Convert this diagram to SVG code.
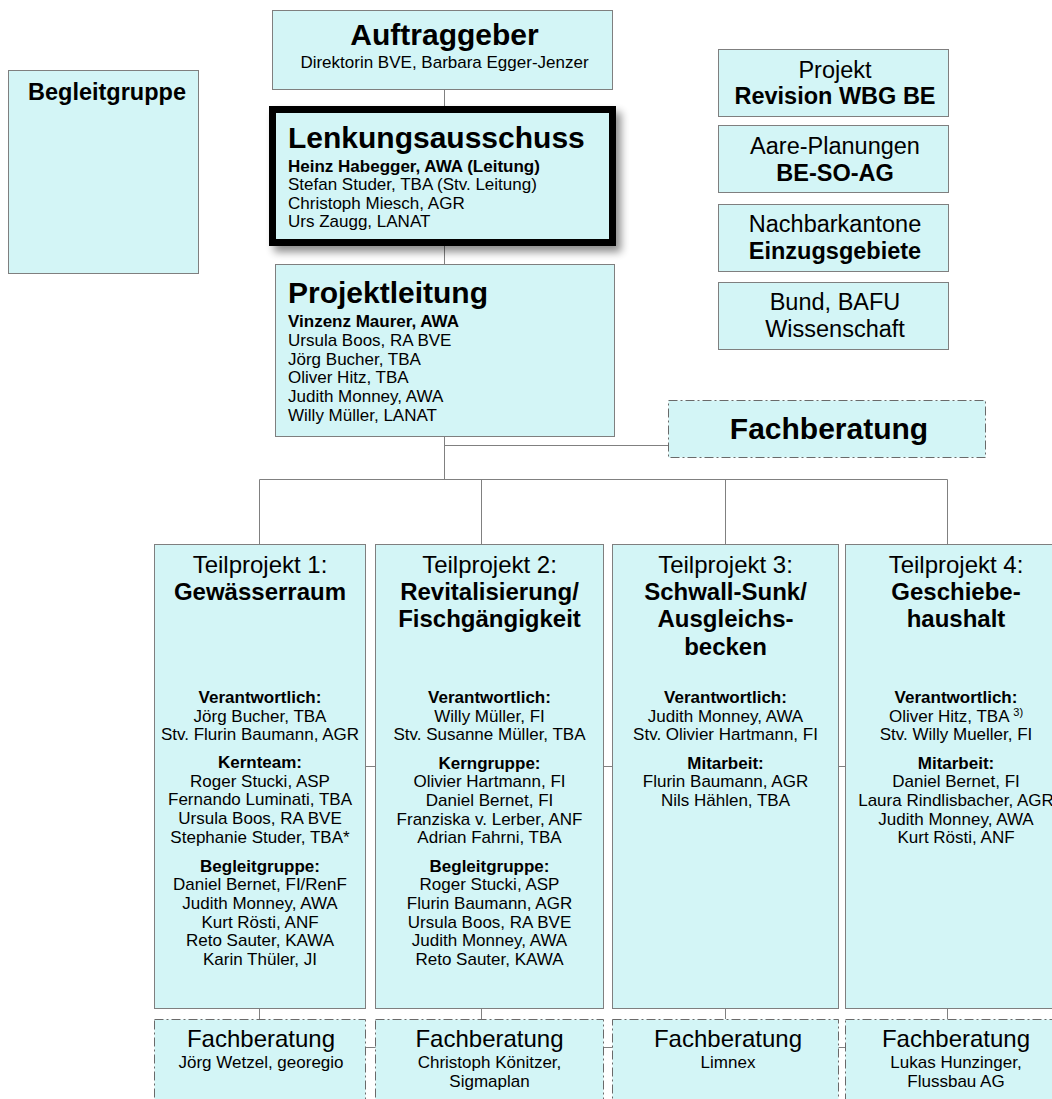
<svg xmlns="http://www.w3.org/2000/svg" width="1052" height="1099" viewBox="0 0 1052 1099">
<defs>
<style>
text{font-family:"Liberation Sans",Arial,sans-serif;fill:#000}
.box{fill:#d3f5f6;stroke:#7f7f7f;stroke-width:1}
.dash{fill:#d3f5f6;stroke:#6a6a6a;stroke-width:1;stroke-dasharray:9 3 2 3}
.conn line{stroke:#808080;stroke-width:1}
.t30{font-size:30px;font-weight:bold}
.t24{font-size:24px}
.t23{font-size:23.5px}
.b{font-weight:bold}
.s17{font-size:17px}
.mid{text-anchor:middle}
</style>
<filter id="shadow" x="-10%" y="-10%" width="130%" height="140%">
<feGaussianBlur in="SourceAlpha" stdDeviation="4"/>
<feOffset dx="5" dy="6" result="o"/>
<feComponentTransfer><feFuncA type="linear" slope="0.45"/></feComponentTransfer>
<feMerge><feMergeNode/><feMergeNode in="SourceGraphic"/></feMerge>
</filter>
</defs>
<rect width="1052" height="1099" fill="#fff"/>

<g id="connectors" class="conn">
<line x1="444.5" y1="90" x2="444.5" y2="106"/>
<line x1="444.5" y1="246" x2="444.5" y2="264"/>
<line x1="444.5" y1="437" x2="444.5" y2="479.5"/>
<line x1="444.5" y1="445.5" x2="668" y2="445.5"/>
<line x1="259.5" y1="479.5" x2="947.5" y2="479.5"/>
<line x1="259.5" y1="479.5" x2="259.5" y2="544"/>
<line x1="481.5" y1="479.5" x2="481.5" y2="544"/>
<line x1="725.5" y1="479.5" x2="725.5" y2="544"/>
<line x1="947.5" y1="479.5" x2="947.5" y2="544"/>
<line x1="259.5" y1="766.5" x2="947.5" y2="766.5"/>
<line x1="259.5" y1="1047.5" x2="947.5" y2="1047.5"/>
<line x1="259.5" y1="1009" x2="259.5" y2="1019"/>
<line x1="481.5" y1="1009" x2="481.5" y2="1019"/>
<line x1="725.5" y1="1009" x2="725.5" y2="1019"/>
<line x1="947.5" y1="1009" x2="947.5" y2="1019"/>
</g>

<g id="begleitgruppe">
<rect class="box" x="8.5" y="70.5" width="190" height="203"/>
<text class="b mid" x="107" y="100" font-size="23.5">Begleitgruppe</text>
</g>

<g id="auftraggeber">
<rect class="box" x="272.5" y="10.5" width="340" height="79"/>
<text class="t30 mid" x="444.5" y="45">Auftraggeber</text>
<text class="s17 mid" x="444.5" y="68">Direktorin BVE, Barbara Egger-Jenzer</text>
</g>

<g id="lenkungsausschuss">
<rect x="272.5" y="109.5" width="340" height="133" fill="#d3f5f6" stroke="#000" stroke-width="7" filter="url(#shadow)"/>
<text class="t30" x="288" y="148">Lenkungsausschuss</text>
<text class="s17" x="288" y="172"><tspan class="b">Heinz Habegger, AWA (Leitung)</tspan><tspan x="288" dy="18.3">Stefan Studer, TBA (Stv. Leitung)</tspan><tspan x="288" dy="18.3">Christoph Miesch, AGR</tspan><tspan x="288" dy="18.3">Urs Zaugg, LANAT</tspan></text>
</g>

<g id="projektleitung">
<rect class="box" x="275.5" y="264.5" width="339" height="172"/>
<text class="t30" x="288" y="303">Projektleitung</text>
<text class="s17" x="288" y="327"><tspan class="b">Vinzenz Maurer, AWA</tspan><tspan x="288" dy="18.8">Ursula Boos, RA BVE</tspan><tspan x="288" dy="18.8">Jörg Bucher, TBA</tspan><tspan x="288" dy="18.8">Oliver Hitz, TBA</tspan><tspan x="288" dy="18.8">Judith Monney, AWA</tspan><tspan x="288" dy="18.8">Willy Müller, LANAT</tspan></text>
</g>

<g id="projekt-revision">
<rect class="box" x="718.5" y="49.5" width="230" height="67"/>
<text class="t23 mid" x="835" y="78">Projekt</text>
<text class="t23 mid b" x="835" y="104">Revision WBG BE</text>
</g>
<g id="aare-planungen">
<rect class="box" x="718.5" y="125.5" width="230" height="67"/>
<text class="t23 mid" x="835" y="154">Aare-Planungen</text>
<text class="t23 mid b" x="835" y="181">BE-SO-AG</text>
</g>
<g id="nachbarkantone">
<rect class="box" x="718.5" y="204.5" width="230" height="67"/>
<text class="t23 mid" x="835" y="232">Nachbarkantone</text>
<text class="t23 mid b" x="835" y="259">Einzugsgebiete</text>
</g>
<g id="bund">
<rect class="box" x="718.5" y="282.5" width="230" height="67"/>
<text class="t23 mid" x="835" y="310">Bund, BAFU</text>
<text class="t23 mid" x="835" y="337">Wissenschaft</text>
</g>

<g id="fachberatung">
<rect class="dash" x="668.5" y="400.5" width="317" height="57"/>
<text class="t30 mid" x="829" y="439">Fachberatung</text>
</g>

<g id="tp1">
<rect class="box" x="154.5" y="544.5" width="211" height="464"/>
<text class="t24 mid" x="260" y="573">Teilprojekt 1:</text>
<text class="t24 mid b" x="260" y="600">Gewässerraum</text>
<text class="s17 mid" x="260" y="703"><tspan class="b">Verantwortlich:</tspan><tspan x="260" dy="18.7">Jörg Bucher, TBA</tspan><tspan x="260" dy="18.7">Stv. Flurin Baumann, AGR</tspan></text>
<text class="s17 mid" x="260" y="768"><tspan class="b">Kernteam:</tspan><tspan x="260" dy="18.7">Roger Stucki, ASP</tspan><tspan x="260" dy="18.7">Fernando Luminati, TBA</tspan><tspan x="260" dy="18.7">Ursula Boos, RA BVE</tspan><tspan x="260" dy="18.7">Stephanie Studer, TBA*</tspan></text>
<text class="s17 mid" x="260" y="871.5"><tspan class="b">Begleitgruppe:</tspan><tspan x="260" dy="18.7">Daniel Bernet, FI/RenF</tspan><tspan x="260" dy="18.7">Judith Monney, AWA</tspan><tspan x="260" dy="18.7">Kurt Rösti, ANF</tspan><tspan x="260" dy="18.7">Reto Sauter, KAWA</tspan><tspan x="260" dy="18.7">Karin Thüler, JI</tspan></text>
</g>

<g id="tp2">
<rect class="box" x="375.5" y="544.5" width="228" height="464"/>
<text class="t24 mid" x="489.5" y="573">Teilprojekt 2:</text>
<text class="t24 mid b" x="489.5" y="600">Revitalisierung/</text>
<text class="t24 mid b" x="489.5" y="627">Fischgängigkeit</text>
<text class="s17 mid" x="489.5" y="703"><tspan class="b">Verantwortlich:</tspan><tspan x="489.5" dy="18.7">Willy Müller, FI</tspan><tspan x="489.5" dy="18.7">Stv. Susanne Müller, TBA</tspan></text>
<text class="s17 mid" x="489.5" y="768.5"><tspan class="b">Kerngruppe:</tspan><tspan x="489.5" dy="18.7">Olivier Hartmann, FI</tspan><tspan x="489.5" dy="18.7">Daniel Bernet, FI</tspan><tspan x="489.5" dy="18.7">Franziska v. Lerber, ANF</tspan><tspan x="489.5" dy="18.7">Adrian Fahrni, TBA</tspan></text>
<text class="s17 mid" x="489.5" y="871.5"><tspan class="b">Begleitgruppe:</tspan><tspan x="489.5" dy="18.7">Roger Stucki, ASP</tspan><tspan x="489.5" dy="18.7">Flurin Baumann, AGR</tspan><tspan x="489.5" dy="18.7">Ursula Boos, RA BVE</tspan><tspan x="489.5" dy="18.7">Judith Monney, AWA</tspan><tspan x="489.5" dy="18.7">Reto Sauter, KAWA</tspan></text>
</g>

<g id="tp3">
<rect class="box" x="612.5" y="544.5" width="226" height="464"/>
<text class="t24 mid" x="725.5" y="573">Teilprojekt 3:</text>
<text class="t24 mid b" x="725.5" y="600">Schwall-Sunk/</text>
<text class="t24 mid b" x="725.5" y="627">Ausgleichs-</text>
<text class="t24 mid b" x="725.5" y="655">becken</text>
<text class="s17 mid" x="725.5" y="703"><tspan class="b">Verantwortlich:</tspan><tspan x="725.5" dy="18.7">Judith Monney, AWA</tspan><tspan x="725.5" dy="18.7">Stv. Olivier Hartmann, FI</tspan></text>
<text class="s17 mid" x="725.5" y="768.5"><tspan class="b">Mitarbeit:</tspan><tspan x="725.5" dy="18.7">Flurin Baumann, AGR</tspan><tspan x="725.5" dy="18.7">Nils Hählen, TBA</tspan></text>
</g>

<g id="tp4">
<rect class="box" x="845.5" y="544.5" width="222" height="464"/>
<text class="t24 mid" x="956" y="573">Teilprojekt 4:</text>
<text class="t24 mid b" x="956" y="600">Geschiebe-</text>
<text class="t24 mid b" x="956" y="627">haushalt</text>
<text class="s17 mid" x="956" y="703"><tspan class="b">Verantwortlich:</tspan></text>
<text class="s17 mid" x="956" y="721.7">Oliver Hitz, TBA <tspan font-size="11" dy="-6">3)</tspan></text>
<text class="s17 mid" x="956" y="740.4">Stv. Willy Mueller, FI</text>
<text class="s17 mid" x="956" y="768.5"><tspan class="b">Mitarbeit:</tspan><tspan x="956" dy="18.7">Daniel Bernet, FI</tspan><tspan x="956" dy="18.7">Laura Rindlisbacher, AGR</tspan><tspan x="956" dy="18.7">Judith Monney, AWA</tspan><tspan x="956" dy="18.7">Kurt Rösti, ANF</tspan></text>
</g>

<g id="fb1">
<rect class="dash" x="154.5" y="1019.5" width="211" height="100"/>
<text class="t24 mid" x="261" y="1047">Fachberatung</text>
<text class="s17 mid" x="261" y="1068">Jörg Wetzel, georegio</text>
</g>
<g id="fb2">
<rect class="dash" x="375.5" y="1019.5" width="228" height="100"/>
<text class="t24 mid" x="489.5" y="1047">Fachberatung</text>
<text class="s17 mid" x="489.5" y="1068">Christoph Könitzer,</text>
<text class="s17 mid" x="489.5" y="1087">Sigmaplan</text>
</g>
<g id="fb3">
<rect class="dash" x="612.5" y="1019.5" width="226" height="100"/>
<text class="t24 mid" x="728" y="1047">Fachberatung</text>
<text class="s17 mid" x="728" y="1068">Limnex</text>
</g>
<g id="fb4">
<rect class="dash" x="845.5" y="1019.5" width="222" height="100"/>
<text class="t24 mid" x="956" y="1047">Fachberatung</text>
<text class="s17 mid" x="956" y="1068">Lukas Hunzinger,</text>
<text class="s17 mid" x="956" y="1087">Flussbau AG</text>
</g>
</svg>
